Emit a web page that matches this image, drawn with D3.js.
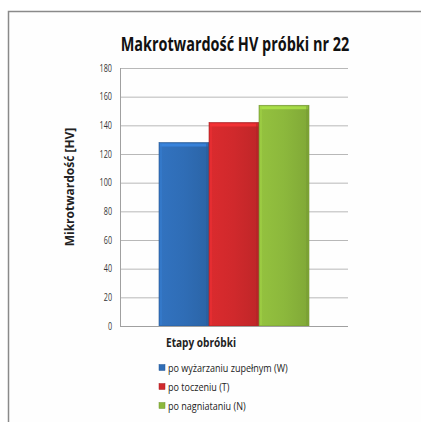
<!DOCTYPE html>
<html>
<head>
<meta charset="utf-8">
<script src="https://cdn.jsdelivr.net/npm/d3@7"></script>
<style>
  html, body { margin: 0; padding: 0; background: #fff; }
  svg { display: block; }
</style>
</head>
<body>
<svg id="chart" width="421" height="422"></svg>
<script>
// Hardness per processing stage
const series = ["po wyżarzaniu zupełnym (W)", "po toczeniu (T)", "po nagniataniu (N)"];
const values = [128, 142, 154];
const colors = ["#2f6db6", "#d0292c", "#8cb83c"];
const yTicks = [0, 20, 40, 60, 80, 100, 120, 140, 160, 180];
const category = ["Etapy obróbki"];

const svg = d3.select("#chart");
const font = "'Open Sans', 'Noto Sans', sans-serif";

// narrow the text to a fraction of its natural width (condensed look)
function narrow(sel, k) {
  sel.each(function() {
    const w = this.getComputedTextLength();
    d3.select(this).attr("textLength", (w * k).toFixed(1)).attr("lengthAdjust", "spacingAndGlyphs");
  });
}

// outer frame
svg.append("rect").attr("x", 8.5).attr("y", 11.5).attr("width", 440).attr("height", 440)
  .attr("fill", "#fefefe").attr("stroke", "#8a8a8a").attr("stroke-width", 1.5);

const plot = { left: 120, right: 348, top: 68, bottom: 326 };

const y = d3.scaleLinear().domain([0, 180]).range([plot.bottom, plot.top]);
const x0 = d3.scaleBand().domain(category).range([plot.left, plot.right]).paddingInner(0).paddingOuter(0.26);
const x1 = d3.scaleBand().domain(series).range([0, x0.bandwidth()]);

// gradients
const defs = svg.append("defs");
colors.forEach((c, i) => {
  const g = defs.append("linearGradient").attr("id", "g" + i).attr("x1", 0).attr("x2", 1).attr("y1", 0).attr("y2", 0);
  const base = d3.color(c);
  g.append("stop").attr("offset", "0%").attr("stop-color", base.brighter(0.15));
  g.append("stop").attr("offset", "50%").attr("stop-color", base);
  g.append("stop").attr("offset", "100%").attr("stop-color", base.darker(0.25));
});

// gridlines and tick labels
svg.append("g")
  .attr("transform", `translate(${plot.left},0)`)
  .call(d3.axisLeft(y).tickValues(yTicks).tickSize(-(plot.right - plot.left)).tickFormat(d3.format("d")).tickPadding(8))
  .call(g => g.select(".domain").remove())
  .call(g => g.selectAll(".tick line").attr("stroke", "#b8b8b8").attr("stroke-width", 1))
  .call(g => g.selectAll(".tick text").attr("fill", "#333").attr("font-family", font).attr("font-size", 10)
    .call(narrow, 0.72));

// y axis line
svg.append("line").attr("x1", plot.left + 0.5).attr("x2", plot.left + 0.5)
  .attr("y1", plot.top).attr("y2", plot.bottom).attr("stroke", "#a0a0a0");

// bars
const gx = svg.append("g").attr("transform", `translate(${x0(category[0])},0)`);
series.forEach((s, i) => {
  const bx = x1(s), bw = x1.bandwidth(), by = y(values[i]), bh = y(0) - y(values[i]);
  gx.append("rect").attr("x", bx).attr("y", by).attr("width", bw).attr("height", bh)
    .attr("fill", `url(#g${i})`).attr("stroke", d3.color(colors[i]).darker(0.6)).attr("stroke-width", 0.6);
  // bevel highlight on top and left edges, shade on right edge
  gx.append("rect").attr("x", bx + 1).attr("y", by + 1).attr("width", bw - 2).attr("height", 3)
    .attr("fill", d3.color(colors[i]).brighter(0.7)).attr("opacity", 0.7);
  gx.append("rect").attr("x", bx + 1).attr("y", by + 1).attr("width", 2).attr("height", bh - 2)
    .attr("fill", d3.color(colors[i]).brighter(0.4)).attr("opacity", 0.5);
  gx.append("rect").attr("x", bx + bw - 3).attr("y", by + 1).attr("width", 2).attr("height", bh - 2)
    .attr("fill", d3.color(colors[i]).darker(0.5)).attr("opacity", 0.5);
});

// x axis baseline
svg.append("line").attr("x1", plot.left).attr("x2", plot.right)
  .attr("y1", plot.bottom + 0.5).attr("y2", plot.bottom + 0.5).attr("stroke", "#a0a0a0");

// title
svg.append("text").attr("x", 235).attr("y", 51).attr("text-anchor", "middle")
  .attr("font-family", font).attr("font-weight", "bold").attr("font-size", 19).attr("fill", "#111")
  .text("Makrotwardość HV próbki nr 22").call(narrow, 0.76);

// y axis title
svg.append("text").attr("transform", "translate(74,187) rotate(-90)").attr("text-anchor", "middle")
  .attr("font-family", font).attr("font-weight", "bold").attr("font-size", 12).attr("fill", "#222")
  .text("Mikrotwardość [HV]").call(narrow, 1.0);

// x category label
svg.append("text").attr("x", 166).attr("y", 347)
  .attr("font-family", font).attr("font-weight", "bold").attr("font-size", 12).attr("fill", "#222")
  .text(category[0]).call(narrow, 0.84);

// legend
const legend = svg.append("g");
series.forEach((s, i) => {
  const ly = 368 + i * 19;
  legend.append("rect").attr("x", 159).attr("y", ly - 3.5).attr("width", 6).attr("height", 6)
    .attr("fill", colors[i]).attr("stroke", d3.color(colors[i]).darker(0.6)).attr("stroke-width", 0.5);
  legend.append("text").attr("x", 168).attr("y", ly + 4)
    .attr("font-family", font).attr("font-size", 11).attr("fill", "#222").text(s)
    .call(narrow, 0.82);
});
</script>
</body>
</html>
